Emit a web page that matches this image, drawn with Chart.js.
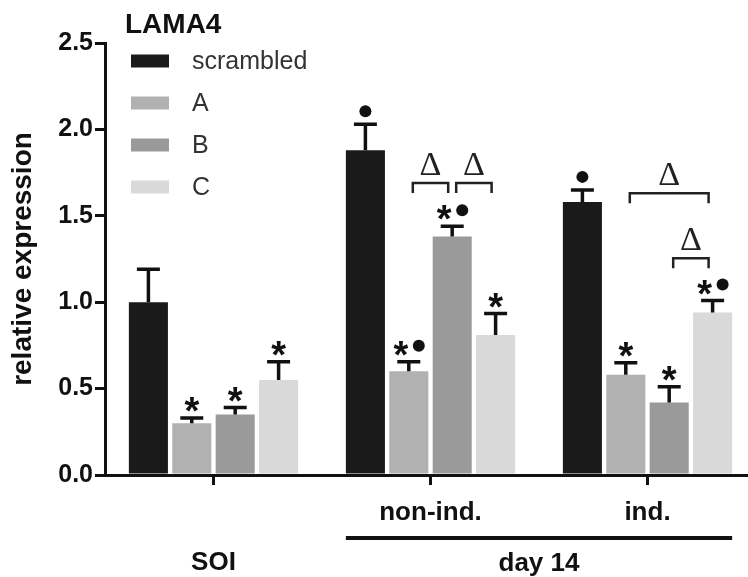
<!DOCTYPE html>
<html>
<head>
<meta charset="utf-8">
<script src="https://cdn.jsdelivr.net/npm/chart.js@4.4.0/dist/chart.umd.min.js"></script>
<style>
html, body { margin: 0; padding: 0; background: #fff; overflow: hidden; }
#wrap { position: relative; width: 760px; height: 577px; }
</style>
</head>
<body>
<div id="wrap"><canvas id="chart"></canvas></div>
<script>
// categories (multi-line: SOI sits on the second row)
const categories = [['', 'SOI'], ['non-ind.', ''], ['ind.', '']];
const groupLabel = 'day 14';
const chartTitle = 'LAMA4';
const yTitle = 'relative expression';
const yTicks = [0, 0.5, 1.0, 1.5, 2.0, 2.5];

const seriesNames = ['scrambled', 'A', 'B', 'C'];
const seriesColors = ['#1a1a1a', '#b1b1b1', '#9a9a9a', '#d9d9d9'];

// bar heights
const scrambled = [1.00, 1.88, 1.58];
const shA = [0.30, 0.60, 0.58];
const shB = [0.35, 1.38, 0.42];
const shC = [0.55, 0.81, 0.94];

// top of the error bars
const scrambledErr = [1.19, 2.03, 1.65];
const shAErr = [0.33, 0.655, 0.65];
const shBErr = [0.39, 1.44, 0.51];
const shCErr = [0.655, 0.935, 1.01];

// significance marks above each bar
const scrambledSig = ['', '●', '●'];
const shASig = ['*', '*●', '*'];
const shBSig = ['*', '*●', '*'];
const shCSig = ['*', '*', '*●'];

// Δ brackets: [category, from series, to series, height]
const brackets = [
    [1, 1, 2, 1.69],
    [1, 2, 3, 1.69],
    [2, 1, 3, 1.63],
    [2, 2, 3, 1.255]
];

const ink = '#111';
const sans = '"Liberation Sans", Arial, sans-serif';

function makeSet(i, values, err, sig) {
    return {
        label: seriesNames[i],
        data: values,
        err: err,
        sig: sig,
        backgroundColor: seriesColors[i],
        borderWidth: 0,
        barPercentage: 0.9,
        categoryPercentage: 0.8
    };
}

// error bars, stars, dots, brackets, legend, title
const extras = {
    id: 'extras',
    afterDatasetsDraw(chart) {
        const ctx = chart.ctx;
        const y = chart.scales.y;
        ctx.save();
        ctx.strokeStyle = ink;
        ctx.fillStyle = ink;

        chart.data.datasets.forEach((ds, di) => {
            const meta = chart.getDatasetMeta(di);
            meta.data.forEach((bar, i) => {
                const top = y.getPixelForValue(ds.err[i]);
                ctx.lineWidth = 3.5;
                ctx.beginPath();
                ctx.moveTo(bar.x, bar.y);
                ctx.lineTo(bar.x, top);
                ctx.moveTo(bar.x - 11.5, top);
                ctx.lineTo(bar.x + 11.5, top);
                ctx.stroke();

                const sig = ds.sig[i];
                const cy = top - 14;
                if (sig === '*') drawStar(ctx, bar.x, cy);
                if (sig === '●') drawDot(ctx, bar.x, cy + 1);
                if (sig === '*●') {
                    drawStar(ctx, bar.x - 8, cy);
                    drawDot(ctx, bar.x + 10, cy - 2);
                }
            });
        });

        // brackets with Δ
        ctx.lineWidth = 2.5;
        ctx.strokeStyle = '#222';
        brackets.forEach(b => {
            const x1 = chart.getDatasetMeta(b[1]).data[b[0]].x + 4;
            const x2 = chart.getDatasetMeta(b[2]).data[b[0]].x - 4;
            const by = y.getPixelForValue(b[3]);
            ctx.beginPath();
            ctx.moveTo(x1, by + 10);
            ctx.lineTo(x1, by);
            ctx.lineTo(x2, by);
            ctx.lineTo(x2, by + 10);
            ctx.stroke();
            ctx.font = '34px "Liberation Serif", "DejaVu Serif", serif';
            ctx.textAlign = 'center';
            ctx.textBaseline = 'alphabetic';
            ctx.fillStyle = '#222';
            ctx.fillText('Δ', (x1 + x2) / 2, by - 8);
        });

        // day 14 line and label
        const m0 = chart.getDatasetMeta(0).data[1];
        const m3 = chart.getDatasetMeta(3).data[2];
        const lx1 = m0.x - m0.width / 2;
        const lx2 = m3.x + m3.width / 2;
        ctx.lineWidth = 4;
        ctx.strokeStyle = ink;
        ctx.beginPath();
        ctx.moveTo(lx1, 538);
        ctx.lineTo(lx2, 538);
        ctx.stroke();
        const x = chart.scales.x;
        ctx.font = 'bold 26px ' + sans;
        ctx.fillStyle = ink;
        ctx.textAlign = 'center';
        ctx.textBaseline = 'alphabetic';
        ctx.fillText(groupLabel, (x.getPixelForValue(1) + x.getPixelForValue(2)) / 2, 571);

        // title
        ctx.textAlign = 'left';
        ctx.font = 'bold 28px ' + sans;
        ctx.fillText(chartTitle, 125, 33);

        // legend
        ctx.font = '25px ' + sans;
        ctx.textBaseline = 'middle';
        seriesNames.forEach((name, i) => {
            const ly = 61 + i * 42;
            ctx.fillStyle = seriesColors[i];
            ctx.fillRect(131, ly - 6.5, 38, 13);
            ctx.fillStyle = '#333';
            ctx.fillText(name, 192, ly + 1);
        });
        ctx.restore();
    }
};

function drawStar(ctx, x, cy) {
    ctx.font = 'bold 38px ' + sans;
    ctx.textAlign = 'center';
    ctx.textBaseline = 'alphabetic';
    ctx.fillStyle = ink;
    ctx.fillText('*', x, cy + 0.53 * 38);
}

function drawDot(ctx, x, cy) {
    ctx.fillStyle = ink;
    ctx.beginPath();
    ctx.arc(x, cy, 6, 0, Math.PI * 2);
    ctx.fill();
}

const ctx = document.getElementById('chart').getContext('2d');
const chart = new Chart(ctx, {
    type: 'bar',
    data: {
        labels: categories,
        datasets: [
            makeSet(0, scrambled, scrambledErr, scrambledSig),
            makeSet(1, shA, shAErr, shASig),
            makeSet(2, shB, shBErr, shBSig),
            makeSet(3, shC, shCErr, shCSig)
        ]
    },
    options: {
        responsive: true,
        maintainAspectRatio: false,
        animation: false,
        layout: { padding: { top: 43, right: 4, left: 0, bottom: 0 } },
        plugins: {
            legend: { display: false },
            tooltip: { enabled: false }
        },
        scales: {
            x: {
                afterFit(s) { s.height = 102; },
                ticks: {
                    font: { family: sans, size: 26, weight: 'bold', lineHeight: '50px' },
                    color: ink,
                    padding: 3,
                    maxRotation: 0,
                    autoSkip: false
                },
                grid: { offset: false, drawOnChartArea: false, tickLength: 10, lineWidth: 3, color: ink },
                border: { width: 3, color: ink }
            },
            y: {
                min: 0,
                max: 2.5,
                afterFit(s) { s.width = 105; },
                afterBuildTicks(s) { s.ticks = yTicks.map(v => ({ value: v })); },
                ticks: {
                    callback: v => v.toFixed(1),
                    font: { family: sans, size: 25, weight: 'bold' },
                    color: ink,
                    padding: 2
                },
                grid: { drawOnChartArea: false, tickLength: 10, lineWidth: 3, color: ink },
                border: { width: 3, color: ink },
                title: {
                    display: true,
                    text: yTitle,
                    font: { family: sans, size: 28, weight: 'bold' },
                    color: ink,
                    padding: { top: 6, bottom: 0 }
                }
            }
        }
    },
    plugins: [extras]
});
</script>
</body>
</html>
